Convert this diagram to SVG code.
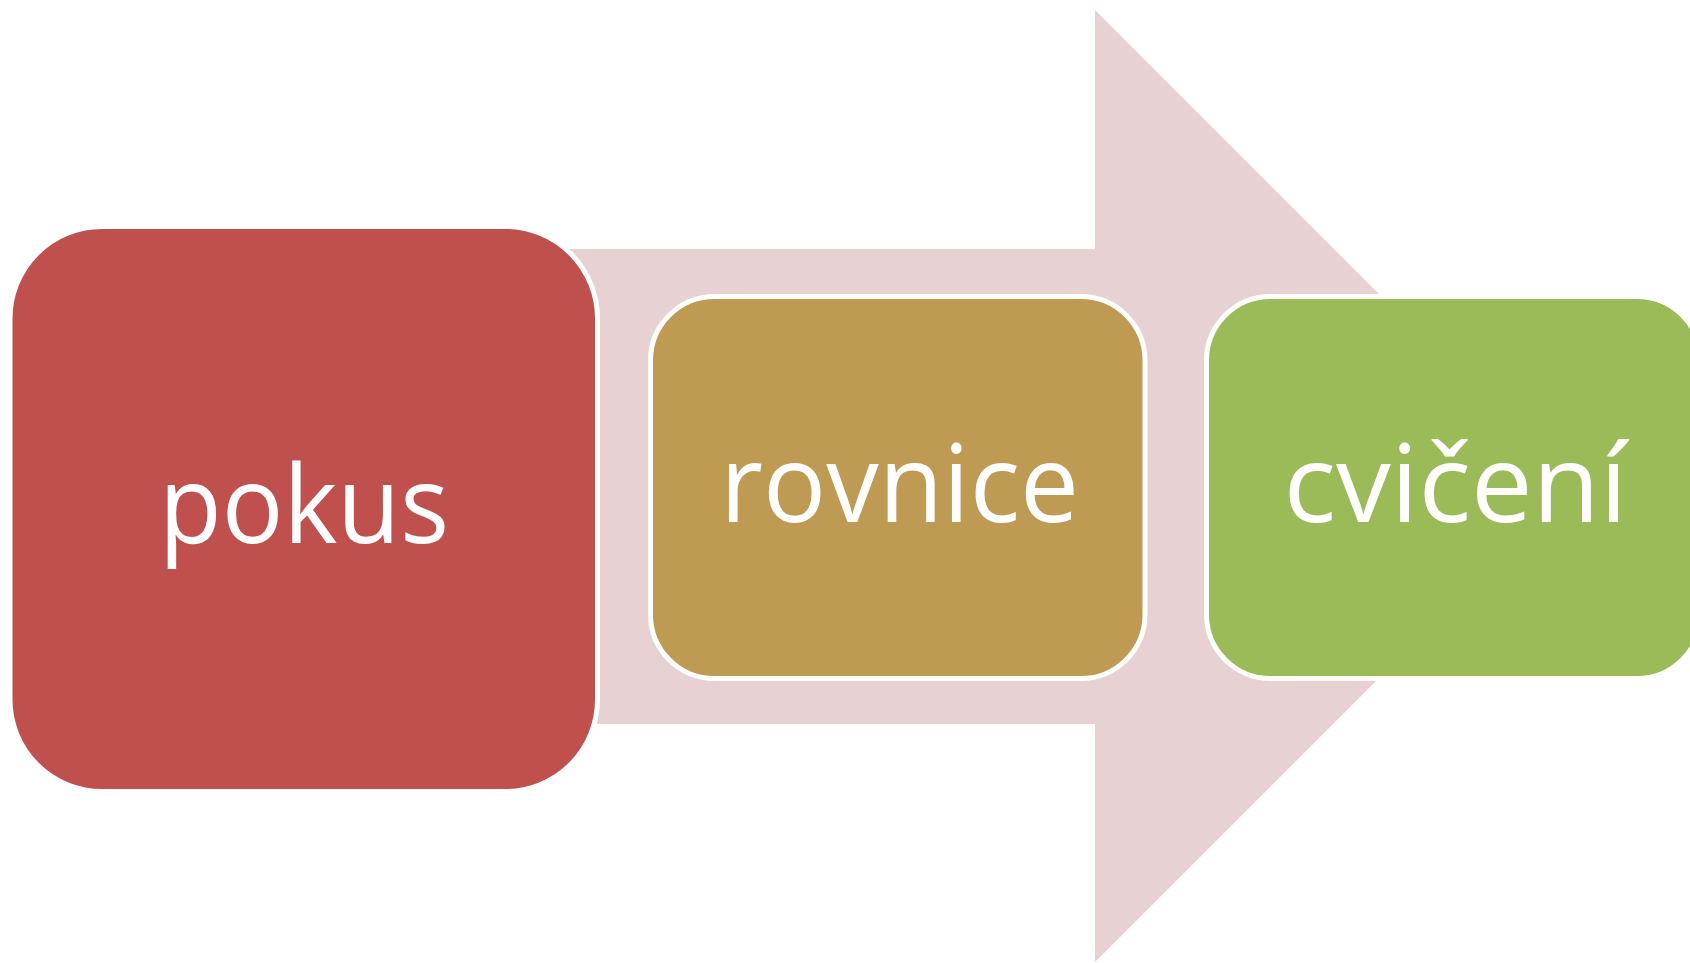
<svg xmlns="http://www.w3.org/2000/svg" width="1690" height="963" viewBox="0 0 1690 963">
<style>
.box{stroke:#FFFFFF;stroke-width:5}
.lbl{font-family:"Open Sans","Noto Sans","Liberation Sans",sans-serif;font-size:108px;fill:#FFFFFF;text-anchor:middle}
</style>
<rect width="1690" height="963" fill="#FFFFFF"/>
<g id="connectors">
<polygon points="100,249 1095,249 1095,10 1571,486 1095,962 1095,724 100,724" fill="#E7D1D2"/>
</g>
<g id="node-pokus">
<rect class="box" x="10" y="226.5" width="587.5" height="565" rx="92" fill="#C0504D"/>
<text class="lbl" x="304" y="543" textLength="290" lengthAdjust="spacingAndGlyphs">pokus</text>
</g>
<g id="node-rovnice">
<rect class="box" x="650.5" y="296.5" width="494.5" height="382" rx="64" fill="#BE9A53"/>
<text class="lbl" x="899.5" y="522" textLength="359" lengthAdjust="spacingAndGlyphs">rovnice</text>
</g>
<g id="node-cviceni">
<rect class="box" x="1206.5" y="296.5" width="494.5" height="382" rx="64" fill="#9BBB59"/>
<text class="lbl" x="1455.5" y="522" textLength="344" lengthAdjust="spacingAndGlyphs">cvičení</text>
</g>
</svg>
